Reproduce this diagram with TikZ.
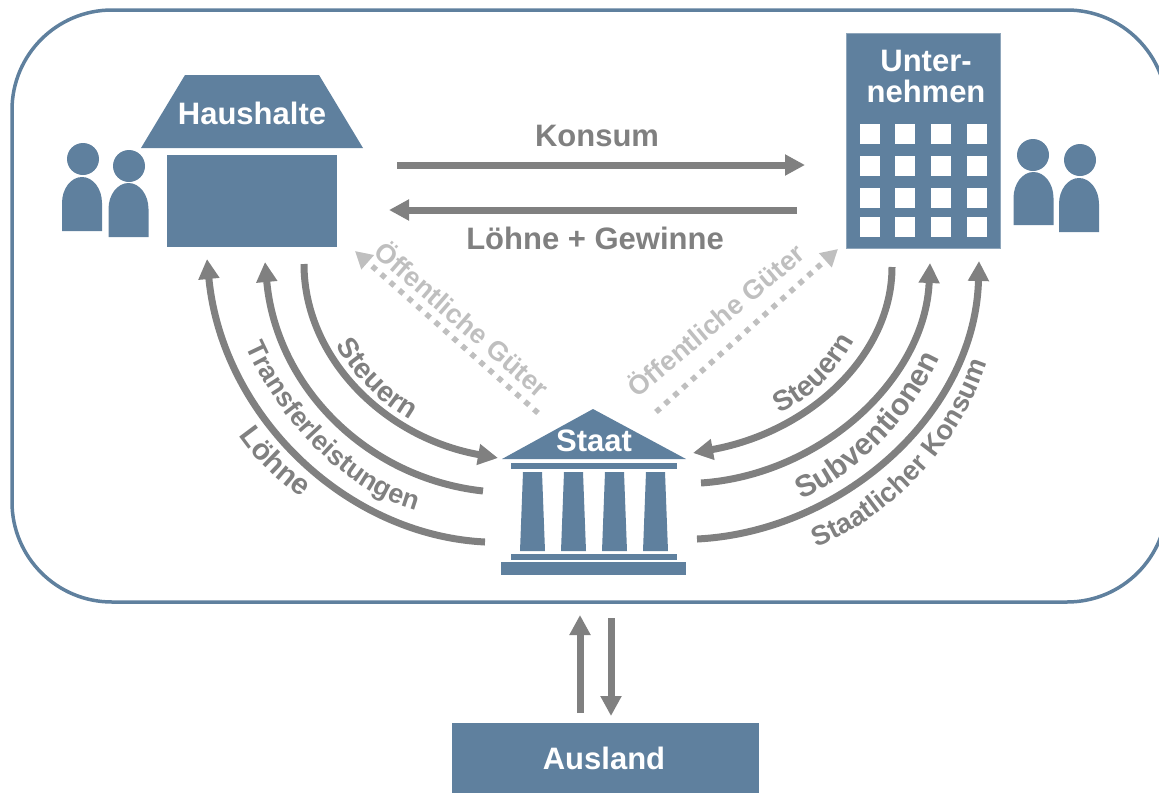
\documentclass[tikz,border=0pt]{standalone}
\usepackage{fontspec}
\setmainfont{Liberation Sans}
\usetikzlibrary{arrows.meta,decorations.text}
\definecolor{sectorblue}{RGB}{95,128,158}
\definecolor{flowgray}{RGB}{128,128,128}
\definecolor{goodsgray}{RGB}{191,191,191}

\begin{document}
\begin{tikzpicture}
[x=1pt,y=-1pt,
sector/.style={rectangle,fill=sectorblue,inner sep=0pt},
title/.style={text=white,inner sep=0pt,align=center,font=\bfseries\fontsize{31}{31}\selectfont},
head/.style={circle,fill=sectorblue,inner sep=0pt,minimum size=32pt},
window/.style={rectangle,fill=white,inner sep=0pt,minimum size=20pt},
flow/.style={draw=flowgray,line width=7pt,-{Triangle[length=20pt,width=20pt]}},
goods/.style={draw=goodsgray,line width=5.5pt,dash pattern=on 5.5pt off 6.5pt,-{Triangle[length=17pt,width=18pt]}},
flowlabel/.style={text=flowgray,inner sep=0pt,font=\bfseries\fontsize{31}{31}\selectfont},
goodslabel/.style={text=goodsgray,inner sep=0pt,font=\bfseries\fontsize{27}{29}\selectfont},
curvelabel/.style 2 args={decorate,decoration={text along path,text align=center,
  text={|\bfseries\color{flowgray}\fontsize{#1}{#1}\selectfont|#2}}}]
\clip (0,0) rectangle (1159,793);

% economy frame
\draw[sectorblue,line width=3.5pt,rounded corners=100pt] (12,10) rectangle (1167,602);

% households
\fill[sectorblue] (185,75) -- (319,75) -- (363,148) -- (141,148) -- cycle;
\node[title] (hhtitle) at (252,113) {Haushalte};
\node[sector,minimum width=170pt,minimum height=92pt] (hh) at (252,201) {};

% firms
\node[sector,draw=sectorblue!70,line width=1.5pt,minimum width=154pt,minimum height=215pt] (firm) at (923.5,141) {};
\node[title] (firmtitle) at (926,76.5) {Unter-\\nehmen};
\foreach \wx in {869.5,905,940.5,977}
  \foreach \wy in {133.5,166,197.5,227}
    \node[window] at (\wx,\wy) {};

% people: head x, head y, body x, body top, body bottom
\foreach \hx/\hy/\bx/\bt/\bb in {83/159/82/177/231, 129/166/128.5/183/237, 1033/155/1033.5/172/225, 1080/160/1079/178/232}
{
  \node[head] at (\hx,\hy) {};
  \fill[sectorblue] (\bx-20,\bb) -- (\bx-20,\bt+26) arc[start angle=180,end angle=0,x radius=20pt,y radius=26pt] -- (\bx+20,\bb) -- cycle;
}

% state
\fill[sectorblue] (593,409) -- (686,459) -- (502,459) -- cycle;
\node[title] (statetitle) at (594,441) {Staat};
\node[sector,minimum width=166pt,minimum height=6pt] (beam) at (594,466) {};
\foreach \cx in {532.5,573.5,614.5,655.5}
  \fill[sectorblue] (\cx-9.5,472) -- (\cx+9.5,472) -- (\cx+12.5,551) -- (\cx-12.5,551) -- cycle;
\node[sector,minimum width=166pt,minimum height=6pt] (plinth) at (594,557) {};
\node[sector,minimum width=185pt,minimum height=13pt] (state) at (593.5,568.5) {};

% abroad
\node[sector,minimum width=307pt,minimum height=70pt] (abroad) at (605.5,758) {};
\node[title] (abroadtitle) at (604,758) {Ausland};

% connector ends
\coordinate (hhconsume) at (397,165);
\coordinate (firmsell) at (805,165);
\coordinate (firmwage) at (797,210);
\coordinate (hhwage) at (389,210);
\coordinate (hhgoods) at (355,251);
\coordinate (stgoodsl) at (538,413);
\coordinate (firmgoods) at (838,249);
\coordinate (stgoodsr) at (656,412);
\coordinate (hhtax) at (304,264);
\coordinate (sttaxl) at (498,458);
\coordinate (sttransfer) at (483,491);
\coordinate (hhtransfer) at (265,262);
\coordinate (stwage) at (485,542);
\coordinate (hhloehne) at (207,259);
\coordinate (firmtax) at (892,267);
\coordinate (sttaxr) at (693,453);
\coordinate (stsubsidy) at (701,483);
\coordinate (firmsubsidy) at (930,263);
\coordinate (stconsume) at (697,539);
\coordinate (firmconsume) at (979,261);
\coordinate (abroadout) at (580,713);
\coordinate (stin) at (580,615);
\coordinate (stout) at (611,618);
\coordinate (abroadin) at (611,716);

% flows
\draw[flow] (hhconsume) -- (firmsell);
\draw[flow] (firmwage) -- (hhwage);
\node[flowlabel] (konsum) at (597,136) {Konsum};
\node[flowlabel] (wages) at (595,238.5) {Löhne + Gewinne};
\draw[goods] (stgoodsl) -- (hhgoods);
\draw[goods] (stgoodsr) -- (firmgoods);
\node[goodslabel,rotate=-41] (goodsl) at (463,318) {Öffentliche Güter};
\node[goodslabel,rotate=40] (goodsr) at (715,319) {Öffentliche Güter};

\draw[flow] (hhtax) .. controls (304,358) and (385,438) .. (sttaxl);
\draw[flow] (sttransfer) .. controls (365,478) and (276,385) .. (hhtransfer);
\draw[flow] (stwage) .. controls (345,535) and (222,415) .. (hhloehne);
\draw[flow] (firmtax) .. controls (892,355) and (810,432) .. (sttaxr);
\draw[flow] (stsubsidy) .. controls (820,475) and (925,380) .. (firmsubsidy);
\draw[flow] (stconsume) .. controls (840,532) and (975,415) .. (firmconsume);
\draw[flow] (abroadout) -- (stin);
\draw[flow] (stout) -- (abroadin);

% curved labels
\path[curvelabel={28.5}{Steuern}] (330,335) .. controls (349,372) and (379,405) .. (421,426);
\path[curvelabel={27}{Transferleistungen}] (243,340) .. controls (265,395) and (330,490) .. (423,512);
\path[curvelabel={29.5}{Löhne}] (232,425) .. controls (250,455) and (275,480) .. (312,505);
\path[curvelabel={28.5}{Steuern}] (768,418) .. controls (805,405) and (838,375) .. (860,330);
\path[curvelabel={30.5}{Subventionen}] (790,503) .. controls (850,483) and (913,422) .. (944,347);
\path[curvelabel={27.5}{Staatlicher Konsum}] (803,552) .. controls (877,529) and (962,454) .. (991,349);
\end{tikzpicture}
\end{document}
